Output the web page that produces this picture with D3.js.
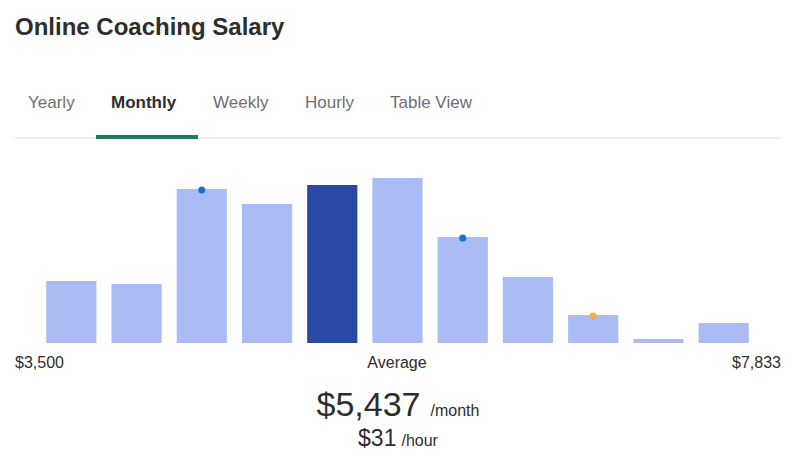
<!DOCTYPE html>
<html><head><meta charset="utf-8">
<script src="https://cdn.jsdelivr.net/npm/d3@7"></script>
<style>body{margin:0;background:#fff;font-family:Arial,"Liberation Sans",sans-serif;}</style>
</head><body><svg id="chart" width="800" height="466"></svg>
<script>
// bar heights (relative counts)
var bins = ["b1","b2","b3","b4","b5","b6","b7","b8","b9","b10","b11"];
var counts = [62, 59, 154, 139, 158, 165, 106, 66, 28, 4, 20];
var highlight = 4;
// markers: bin index, colour
var markers = [{bin: 2, color: "#1a6fd6"}, {bin: 6, color: "#1a6fd6"}, {bin: 8, color: "#f5a84a"}];
var tabs = ["Yearly", "Monthly", "Weekly", "Hourly", "Table View"];
var tabX = [28, 111, 213, 305, 390];

var svg = d3.select("#chart");

svg.append("text").attr("x", 15).attr("y", 35).attr("font-size", 24).attr("font-weight", "bold")
  .attr("fill", "#2d2d2d").text("Online Coaching Salary");

tabs.forEach(function (t, i) {
  svg.append("text").attr("x", tabX[i]).attr("y", 108).attr("font-size", 17)
    .attr("fill", i == 1 ? "#2d2d2d" : "#6f6f6f").attr("font-weight", i == 1 ? "bold" : "normal").text(t);
});
svg.append("line").attr("x1", 15).attr("x2", 781).attr("y1", 138).attr("y2", 138).attr("stroke", "#e0e0e0");
svg.append("rect").attr("x", 96).attr("y", 135).attr("width", 102).attr("height", 4).attr("fill", "#1e7b5e");

var x = d3.scaleBand().domain(bins).range([41, 754]).paddingInner(0.23).paddingOuter(0.08);
var y = d3.scaleLinear().domain([0, 165]).range([343, 178]);

svg.selectAll(".bar").data(counts).enter().append("rect")
  .attr("x", function (d, i) { return x(bins[i]); })
  .attr("y", function (d) { return y(d); })
  .attr("width", x.bandwidth())
  .attr("height", function (d) { return 343 - y(d); })
  .attr("fill", function (d, i) { return i == highlight ? "#2849a6" : "#aabcf3"; });

svg.selectAll(".dot").data(markers).enter().append("circle")
  .attr("cx", function (m) { return x(bins[m.bin]) + x.bandwidth() / 2; })
  .attr("cy", function (m) { return y(counts[m.bin]) + 1; })
  .attr("r", 3.5).attr("fill", function (m) { return m.color; });

svg.append("text").attr("x", 15).attr("y", 368).attr("font-size", 16).attr("fill", "#2d2d2d").text("$3,500");
svg.append("text").attr("x", 397).attr("y", 368).attr("font-size", 16).attr("fill", "#2d2d2d").attr("text-anchor", "middle").text("Average");
svg.append("text").attr("x", 781).attr("y", 368).attr("font-size", 16).attr("fill", "#2d2d2d").attr("text-anchor", "end").text("$7,833");

var t1 = svg.append("text").attr("x", 398).attr("y", 416).attr("text-anchor", "middle").attr("fill", "#2d2d2d");
t1.append("tspan").attr("font-size", 34).text("$5,437");
t1.append("tspan").attr("font-size", 16).attr("dx", 10).text("/month");
var t2 = svg.append("text").attr("x", 398).attr("y", 446).attr("text-anchor", "middle").attr("fill", "#2d2d2d");
t2.append("tspan").attr("font-size", 23).text("$31");
t2.append("tspan").attr("font-size", 16).attr("dx", 5).text("/hour");
</script></body></html>
